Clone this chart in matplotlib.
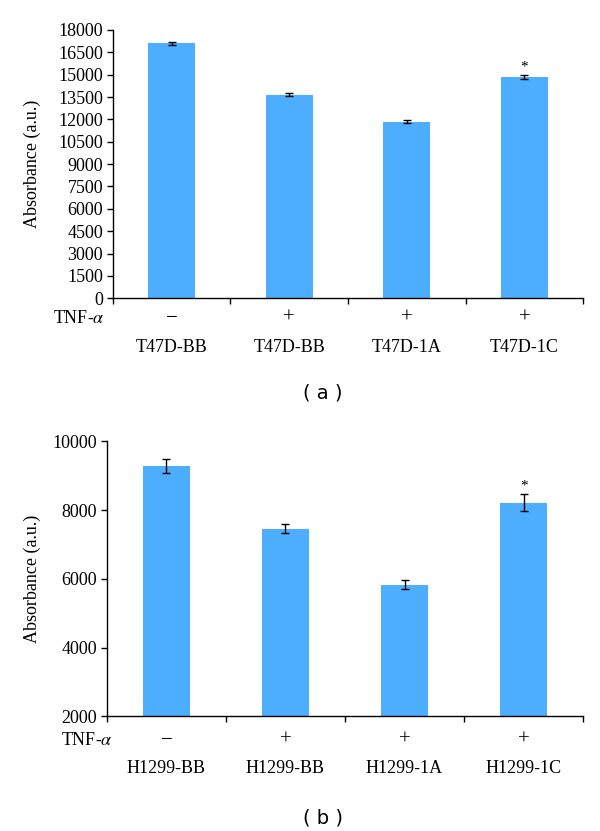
import numpy as np
import matplotlib
matplotlib.use("Agg")
import matplotlib.pyplot as plt

# ---- data ----
tnf = ["\u2212", "+", "+", "+"]

labels_a = ["T47D-BB", "T47D-BB", "T47D-1A", "T47D-1C"]
values_a = [17100, 13650, 11850, 14850]
errors_a = [90, 90, 80, 150]
yticks_a = list(range(0, 18001, 1500))

labels_b = ["H1299-BB", "H1299-BB", "H1299-1A", "H1299-1C"]
values_b = [9280, 7460, 5830, 8210]
errors_b = [200, 140, 130, 250]
yticks_b = [2000, 4000, 6000, 8000, 10000]

star_a = [False, False, False, True]
star_b = [False, False, False, True]

BAR_COLOR = "#4daeff"
FS = 13
plt.rcParams["font.family"] = ["Liberation Serif", "DejaVu Serif"]
plt.rcParams["mathtext.fontset"] = "stix"

fig = plt.figure(figsize=(6, 8.31), dpi=100)


def panel(rect, labels, values, errors, stars, yticks, ylim, tnf_off, lab_off, tnf_x):
    ax = fig.add_axes(rect)
    x = np.arange(len(values)) + 0.5
    ax.bar(x, values, width=0.4, color=BAR_COLOR, zorder=2)
    ax.errorbar(x, values, yerr=errors, fmt="none", ecolor="black",
                elinewidth=1.0, capsize=3, capthick=1.0, zorder=3)
    for xi, v, e, s in zip(x, values, errors, stars):
        if s:
            ax.annotate("*", xy=(xi, v + e), xytext=(0, 1), textcoords="offset points",
                        ha="center", va="bottom", fontsize=11)
    ax.set_xlim(0, len(values))
    ax.set_ylim(*ylim)
    ax.set_yticks(yticks)
    ax.set_xticks(np.arange(len(values) + 1))
    ax.set_xticklabels([])
    ax.tick_params(axis="both", direction="out", length=4, width=1, labelsize=FS, pad=3)
    for side in ["top", "right"]:
        ax.spines[side].set_visible(False)
    for side in ["left", "bottom"]:
        ax.spines[side].set_linewidth(1.0)
    ax.set_ylabel("Absorbance (a.u.)", fontsize=FS)
    for xi, t, lab in zip(x, tnf, labels):
        ax.annotate(t, xy=(xi, tnf_off), xycoords=("data", "axes fraction"),
                    ha="center", va="center", fontsize=FS + 2)
        ax.annotate(lab, xy=(xi, lab_off), xycoords=("data", "axes fraction"),
                    ha="center", va="center", fontsize=FS)
    ax.annotate(r"TNF-$\alpha$", xy=(tnf_x, tnf_off), xycoords="axes fraction",
                ha="right", va="center", fontsize=FS)
    return ax


ax_a = panel([0.188, 0.641, 0.784, 0.323], labels_a, values_a, errors_a, star_a,
             yticks_a, (0, 18000), -0.075, -0.183, -0.017)
ax_a.yaxis.set_label_coords(-0.153, 0.5)

ax_b = panel([0.178, 0.138, 0.794, 0.331], labels_b, values_b, errors_b, star_b,
             yticks_b, (2000, 10000), -0.087, -0.189, 0.013)
ax_b.yaxis.set_label_coords(-0.139, 0.5)

fig.text(0.538, 0.527, "( a )", ha="center", va="center", fontsize=14, family="DejaVu Sans")
fig.text(0.538, 0.016, "( b )", ha="center", va="center", fontsize=14, family="DejaVu Sans")

fig.savefig("out.png", dpi=100)
